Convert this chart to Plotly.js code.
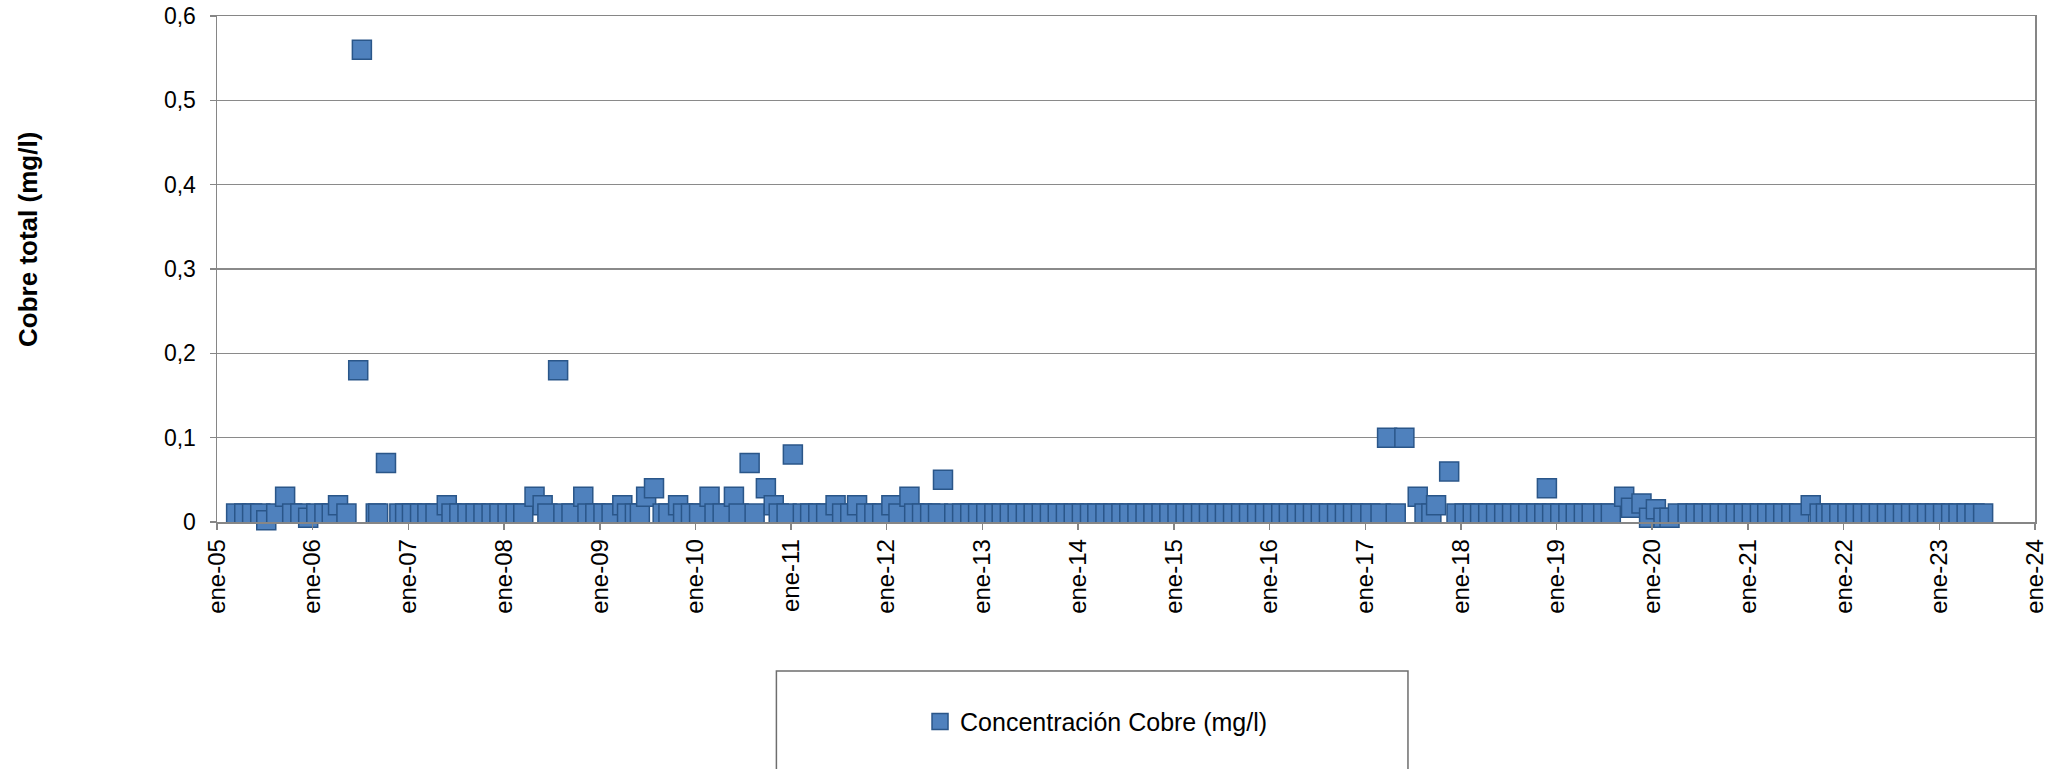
<!DOCTYPE html>
<html>
<head>
<meta charset="utf-8">
<script src="https://cdn.plot.ly/plotly-3.0.1.min.js"></script>
<style>html,body{margin:0;padding:0;background:#fff;}#chart{width:2058px;height:769px;}</style>
</head>
<body>
<div id="chart"></div>
<script>
// Sample dates and total copper concentration (mg/l)
var sampleDates = [
 '2005-03-15','2005-04-15','2005-05-15','2005-06-15','2005-07-08','2005-08-15','2005-09-18','2005-10-15','2005-11-15','2005-12-15',
 '2006-01-15','2006-02-15','2006-03-15','2006-04-08','2006-05-10','2006-06-24','2006-07-08','2006-08-30','2006-09-08','2006-10-08','2006-11-28','2006-12-20',
 '2007-01-15','2007-02-15','2007-03-15','2007-04-15','2007-05-28','2007-06-15','2007-07-15','2007-08-15','2007-09-15','2007-10-15','2007-11-15','2007-12-15',
 '2008-01-15','2008-02-15','2008-03-15','2008-04-27','2008-05-28','2008-06-15','2008-07-26','2008-08-15','2008-09-15','2008-10-30','2008-11-15','2008-12-15',
 '2009-01-15','2009-02-15','2009-03-28','2009-04-15','2009-05-15','2009-06-03','2009-06-27','2009-07-27','2009-08-29','2009-09-20','2009-10-27','2009-11-15','2009-12-15',
 '2010-01-15','2010-02-24','2010-03-15','2010-04-15','2010-05-28','2010-06-15','2010-07-27','2010-08-15','2010-09-27','2010-10-27','2010-11-15','2010-12-15',
 '2011-01-08','2011-02-15','2011-03-15','2011-04-15','2011-05-15','2011-06-20','2011-07-15','2011-08-15','2011-09-10','2011-10-15','2011-11-15','2011-12-15',
 '2012-01-19','2012-02-15','2012-03-28','2012-04-15','2012-05-15','2012-06-15','2012-07-15','2012-08-03','2012-09-15','2012-10-15','2012-11-15','2012-12-15',
 '2013-01-15','2013-02-15','2013-03-15','2013-04-15','2013-05-15','2013-06-15','2013-07-15','2013-08-15','2013-09-15','2013-10-15','2013-11-15','2013-12-15',
 '2014-01-15','2014-02-15','2014-03-15','2014-04-15','2014-05-15','2014-06-15','2014-07-15','2014-08-15','2014-09-15','2014-10-15','2014-11-15','2014-12-15',
 '2015-01-15','2015-02-15','2015-03-15','2015-04-15','2015-05-15','2015-06-15','2015-07-15','2015-08-15','2015-09-15','2015-10-15','2015-11-15','2015-12-15',
 '2016-01-15','2016-02-15','2016-03-15','2016-04-15','2016-05-15','2016-06-15','2016-07-15','2016-08-15','2016-09-15','2016-10-15','2016-11-15','2016-12-15',
 '2017-01-20','2017-02-28','2017-03-25','2017-04-27','2017-05-30','2017-07-20','2017-08-15','2017-09-10','2017-09-28','2017-11-17','2017-12-15',
 '2018-01-15','2018-02-15','2018-03-15','2018-04-15','2018-05-15','2018-06-15','2018-07-15','2018-08-15','2018-09-15','2018-10-15','2018-11-25','2018-11-15','2018-12-15',
 '2019-01-15','2019-02-15','2019-03-15','2019-04-15','2019-05-15','2019-06-28','2019-07-27','2019-09-16','2019-10-12','2019-11-21','2019-12-20',
 '2020-01-15','2020-02-13','2020-03-07','2020-04-08','2020-05-15','2020-06-15','2020-07-15','2020-08-15','2020-09-15','2020-10-15','2020-11-15','2020-12-15',
 '2021-01-15','2021-02-15','2021-03-15','2021-04-15','2021-05-15','2021-06-15','2021-07-15','2021-08-28','2021-10-01','2021-10-25','2021-11-15','2021-12-15',
 '2022-01-15','2022-02-15','2022-03-15','2022-04-15','2022-05-15','2022-06-15','2022-07-15','2022-08-15','2022-09-15','2022-10-15','2022-11-15','2022-12-15',
 '2023-01-15','2023-02-15','2023-03-15','2023-04-15','2023-05-15','2023-06-17'
];
var copperTotal = [
 0.01,0.01,0.01,0.01,0.002,0.01,0.03,0.01,0.01,0.005,
 0.01,0.01,0.01,0.02,0.01,0.18,0.56,0.01,0.01,0.07,0.01,0.01,
 0.01,0.01,0.01,0.01,0.02,0.01,0.01,0.01,0.01,0.01,0.01,0.01,
 0.01,0.01,0.01,0.03,0.02,0.01,0.18,0.01,0.01,0.03,0.01,0.01,
 0.01,0.01,0.02,0.01,0.01,0.01,0.03,0.04,0.01,0.01,0.02,0.01,0.01,
 0.01,0.03,0.01,0.01,0.03,0.01,0.07,0.01,0.04,0.02,0.01,0.01,
 0.08,0.01,0.01,0.01,0.01,0.02,0.01,0.01,0.02,0.01,0.01,0.01,
 0.02,0.01,0.03,0.01,0.01,0.01,0.01,0.05,0.01,0.01,0.01,0.01,
 0.01,0.01,0.01,0.01,0.01,0.01,0.01,0.01,0.01,0.01,0.01,0.01,
 0.01,0.01,0.01,0.01,0.01,0.01,0.01,0.01,0.01,0.01,0.01,0.01,
 0.01,0.01,0.01,0.01,0.01,0.01,0.01,0.01,0.01,0.01,0.01,0.01,
 0.01,0.01,0.01,0.01,0.01,0.01,0.01,0.01,0.01,0.01,0.01,0.01,
 0.01,0.01,0.1,0.01,0.1,0.03,0.01,0.01,0.02,0.06,0.01,
 0.01,0.01,0.01,0.01,0.01,0.01,0.01,0.01,0.01,0.01,0.04,0.01,0.01,
 0.01,0.01,0.01,0.01,0.01,0.01,0.01,0.03,0.017,0.022,0.005,
 0.015,0.005,0.005,0.01,0.01,0.01,0.01,0.01,0.01,0.01,0.01,0.01,
 0.01,0.01,0.01,0.01,0.01,0.01,0.01,0.02,0.01,0.01,0.01,0.01,
 0.01,0.01,0.01,0.01,0.01,0.01,0.01,0.01,0.01,0.01,0.01,0.01,
 0.01,0.01,0.01,0.01,0.01,0.01
];
var xTickDates = ['2005-01-01','2006-01-01','2007-01-01','2008-01-01','2009-01-01','2010-01-01','2011-01-01','2012-01-01','2013-01-01','2014-01-01',
 '2015-01-01','2016-01-01','2017-01-01','2018-01-01','2019-01-01','2020-01-01','2021-01-01','2022-01-01','2023-01-01','2024-01-01'];
var xTickLabels = ['ene-05','ene-06','ene-07','ene-08','ene-09','ene-10','ene-11','ene-12','ene-13','ene-14',
 'ene-15','ene-16','ene-17','ene-18','ene-19','ene-20','ene-21','ene-22','ene-23','ene-24'];
var yTickValues = [0, 0.1, 0.2, 0.3, 0.4, 0.5, 0.6];
var seriesName = 'Concentración Cobre (mg/l)';
var yTitle = 'Cobre total (mg/l)';

var FONT = 'Liberation Sans, Arial, sans-serif';

var trace = {
  type: 'scatter',
  mode: 'markers',
  name: seriesName,
  x: sampleDates,
  y: copperTotal,
  marker: {symbol: 'square', size: 19, color: '#4F81BD', line: {color: '#2A5689', width: 1.5}},
  cliponaxis: false,
  hoverinfo: 'x+y'
};

var layout = {
  width: 2058,
  height: 769,
  paper_bgcolor: '#ffffff',
  plot_bgcolor: '#ffffff',
  separators: ',.',
  margin: {l: 217, r: 23, t: 16, b: 247, autoexpand: false},
  font: {family: FONT, size: 22, color: '#000000'},
  showlegend: true,
  legend: {
    x: 0.3867, xanchor: 'left', y: -0.395, yanchor: 'middle',
    bgcolor: 'rgba(0,0,0,0)', borderwidth: 0,
    font: {family: FONT, size: 25, color: '#000000'}
  },
  xaxis: {
    type: 'date',
    range: ['2005-01-01', '2024-01-01'],
    tickmode: 'array',
    tickvals: xTickDates,
    ticktext: xTickLabels,
    tickangle: -90,
    ticks: 'outside', ticklen: 6, tickwidth: 1.5, tickcolor: '#868686',
    showline: true, linecolor: '#868686', linewidth: 1.5, mirror: true,
    showgrid: false, zeroline: false,
    tickfont: {family: FONT, size: 24, color: '#000000'}
  },
  yaxis: {
    range: [0, 0.6],
    tickmode: 'array',
    tickvals: yTickValues,
    ticks: 'outside', ticklen: 6, tickwidth: 1.5, tickcolor: '#868686',
    ticklabelstandoff: 9,
    showline: true, linecolor: '#868686', linewidth: 1.5, mirror: true,
    showgrid: true, gridcolor: '#8a8a8a', gridwidth: 1.3,
    zeroline: false,
    tickfont: {family: FONT, size: 23, color: '#000000'}
  },
  annotations: [{
    text: '<b>' + yTitle + '</b>',
    xref: 'paper', yref: 'paper',
    x: -0.104, y: 0.5593,
    xanchor: 'center', yanchor: 'middle',
    textangle: -90, showarrow: false,
    font: {family: FONT, size: 26, color: '#000000'}
  }],
  shapes: [{
    type: 'rect', xref: 'paper', yref: 'paper',
    x0: 0.3077, x1: 0.6551, y0: -0.2945, y1: -0.52,
    line: {color: '#6e6e6e', width: 1.5},
    fillcolor: 'rgba(0,0,0,0)'
  }]
};

Plotly.newPlot('chart', [trace], layout, {displayModeBar: false, staticPlot: true});
</script>
</body>
</html>
